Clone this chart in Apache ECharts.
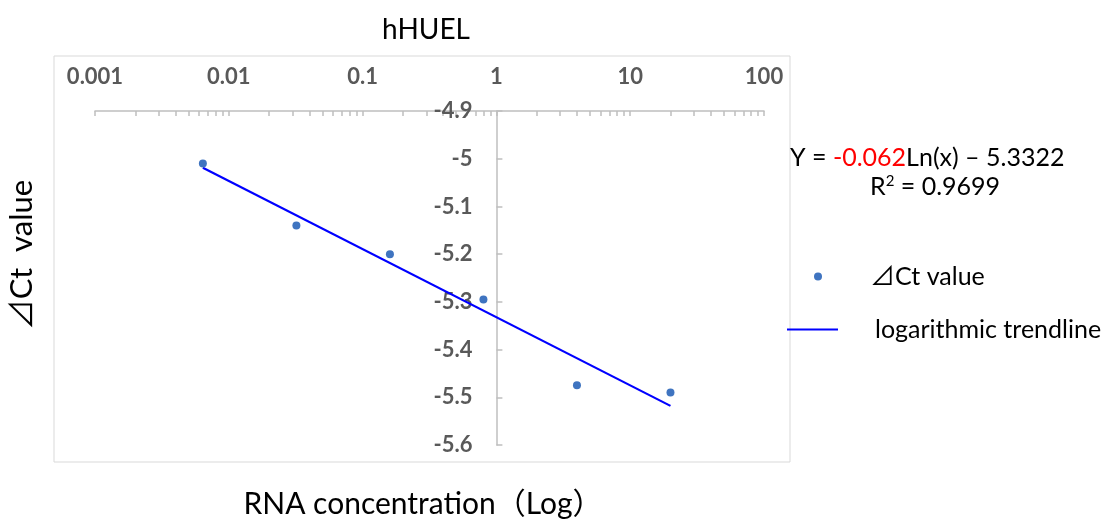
<!DOCTYPE html>
<html>
<head>
<meta charset="utf-8">
<script src="https://cdn.jsdelivr.net/npm/echarts@6/dist/echarts.min.js"></script>
<style>
html,body{margin:0;padding:0;background:#fff;}
#chart{width:1118px;height:521px;}
</style>
</head>
<body>
<div id="chart"></div>
<script>
// ---- data ----
const concentrations = [0.0064, 0.032, 0.16, 0.8, 4, 20];
const dCtValues = [-5.01, -5.14, -5.20, -5.295, -5.475, -5.49];
const trendX = [0.0064, 20];
const trendY = [-5.019, -5.518];
const xTickLabels = [0.001, 0.01, 0.1, 1, 10, 100];
const yMin = -5.6, yMax = -4.9, yStep = 0.1;
const chartTitle = 'hHUEL';
const xName = 'RNA concentration（Log）';
const yName = '⊿Ct  value';
const seriesNames = ['⊿Ct value', 'logarithmic trendline'];
const eqCoef = '-0.062', eqRest = 'Ln(x) – 5.3322', r2Text = '0.9699';

// minor tick positions (1..9 per decade)
const minorTickValues = [];
for (let i = 0; i < xTickLabels.length - 1; i++) {
  for (let k = 1; k < 10; k++) minorTickValues.push(+(k * xTickLabels[i]).toPrecision(3));
}
minorTickValues.push(xTickLabels[xTickLabels.length - 1]);

const FONT = "Lato, 'Noto Sans CJK JP', sans-serif";
const chart = echarts.init(document.getElementById('chart'));

const gridLeft = 95, gridRight = 354, gridTop = 111, gridBottom = 76;
const plotW = 1118 - gridLeft - gridRight;
// y axis crosses at x = 1
const yCrossFrac = (Math.log10(1) - Math.log10(xTickLabels[0])) /
  (Math.log10(xTickLabels[xTickLabels.length - 1]) - Math.log10(xTickLabels[0]));

chart.setOption({
  animation: false,
  backgroundColor: '#fff',
  grid: { left: gridLeft, right: gridRight, top: gridTop, bottom: gridBottom, outerBoundsMode: 'none' },
  title: {
    text: chartTitle, left: 421, top: 11, textAlign: 'center',
    textStyle: { fontFamily: FONT, fontSize: 28, fontWeight: 'normal', color: '#000' }
  },
  xAxis: {
    type: 'log', position: 'top', min: xTickLabels[0], max: xTickLabels[xTickLabels.length - 1],
    logBase: 10,
    axisLine: { show: true, onZero: false, lineStyle: { color: '#bfbfbf', width: 1.5 } },
    axisTick: { show: true, inside: true, length: 5, customValues: minorTickValues, lineStyle: { color: '#bfbfbf', width: 1.5 } },
    axisLabel: {
      customValues: xTickLabels, margin: 23,
      formatter: v => String(v),
      fontFamily: FONT, fontSize: 22, fontWeight: 'bold', color: '#595959'
    },
    splitLine: { show: false }, minorTick: { show: false }
  },
  yAxis: {
    type: 'value', min: yMin, max: yMax, interval: yStep, position: 'left',
    offset: -yCrossFrac * plotW,
    axisLine: { show: true, onZero: false, lineStyle: { color: '#bfbfbf', width: 1.5 } },
    axisTick: { show: true, inside: true, length: 6, lineStyle: { color: '#bfbfbf', width: 1.5 } },
    axisLabel: {
      margin: 24, fontFamily: FONT, fontSize: 22, fontWeight: 'bold', color: '#595959',
      formatter: v => String(+v.toFixed(1))
    },
    splitLine: { show: false }
  },
  legend: [
    {
      data: [seriesNames[0]], left: 814, top: 264, orient: 'vertical', padding: 0,
      icon: 'circle', itemWidth: 8, itemHeight: 8,
      textStyle: { fontFamily: FONT, fontSize: 25, color: '#000', padding: [0, 0, 0, 43] }
    },
    {
      data: [seriesNames[1]], left: 787, top: 317, orient: 'vertical', padding: 0,
      icon: 'rect', itemWidth: 51, itemHeight: 2,
      textStyle: { fontFamily: FONT, fontSize: 25, color: '#000', padding: [0, 0, 0, 32] }
    }
  ],
  graphic: [
    { type: 'rect', shape: { x: 54, y: 56, width: 736, height: 406 }, style: { fill: 'none', stroke: '#d9d9d9', lineWidth: 1 }, z: -1 },
    {
      type: 'text', x: 423, y: 504,
      style: { text: xName, font: "30px " + FONT, fill: '#000', align: 'center', verticalAlign: 'middle' }
    },
    {
      type: 'text', x: 22, y: 255, rotation: Math.PI / 2, originX: 0, originY: 0,
      style: { text: yName, font: "31px " + FONT, fill: '#000', align: 'center', verticalAlign: 'middle' }
    },
    {
      type: 'text', left: 790, top: 145,
      style: {
        text: '{b|Y = }{r|' + eqCoef + '}{b|' + eqRest + '}',
        rich: {
          b: { font: "25px " + FONT, fill: '#000' },
          r: { font: "25px " + FONT, fill: '#ff0000' }
        }
      }
    },
    {
      type: 'text', left: 870, top: 174,
      style: {
        text: '{b|R}{s|2}{b| = ' + r2Text + '}',
        rich: {
          b: { font: "25px " + FONT, fill: '#000' },
          s: { font: "15px " + FONT, fill: '#000', verticalAlign: 'top', padding: [0, 0, 10, 0] }
        }
      }
    }
  ],
  series: [
    {
      name: seriesNames[0], type: 'scatter', symbolSize: 8,
      itemStyle: { color: '#3f74c0', opacity: 1 },
      data: concentrations.map((x, i) => [x, dCtValues[i]]), z: 3
    },
    {
      name: seriesNames[1], type: 'line', symbol: 'none',
      lineStyle: { color: '#0000ff', width: 2.2 }, itemStyle: { color: '#0000ff' },
      data: trendX.map((x, i) => [x, trendY[i]]), z: 2
    }
  ]
});
</script>
</body>
</html>
